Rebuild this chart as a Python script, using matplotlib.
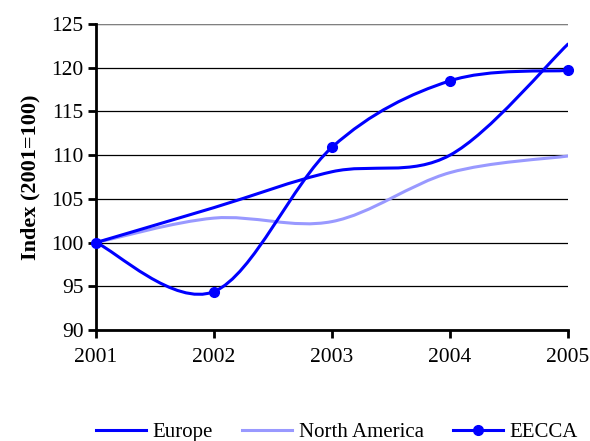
import numpy as np
import matplotlib
matplotlib.use("Agg")
from matplotlib import pyplot as plt
from matplotlib.path import Path
from matplotlib.patches import PathPatch
from matplotlib.lines import Line2D

years = [2001, 2002, 2003, 2004, 2005]
europe = [100, 104.0, 108.1, 110.0, 122.7]
north_america = [100, 102.8, 102.4, 108.0, 109.9]
eecca = [100, 94.4, 110.9, 118.5, 119.7]

blue = '#0000FF'
light_blue = '#9999FF'

plt.rcParams['font.family'] = ['Liberation Serif', 'DejaVu Serif']


def smooth_path(x, y):
    # Excel-like smoothed line: Catmull-Rom segments as cubic Beziers
    pts = np.column_stack([x, y]).astype(float)
    ext = np.vstack([pts[0], pts, pts[-1]])
    verts = [tuple(pts[0])]
    codes = [Path.MOVETO]
    for i in range(1, len(ext) - 2):
        p0, p1, p2, p3 = ext[i - 1], ext[i], ext[i + 1], ext[i + 2]
        c1 = p1 + (p2 - p0) / 6
        c2 = p2 - (p3 - p1) / 6
        verts += [tuple(c1), tuple(c2), tuple(p2)]
        codes += [Path.CURVE4] * 3
    return Path(verts, codes)


fig = plt.figure(figsize=(5.9, 4.41), dpi=100)
ax = fig.add_axes([0.1627, 0.2517, 0.80, 0.6939])

for vals, col in [(north_america, light_blue), (europe, blue), (eecca, blue)]:
    ax.add_patch(PathPatch(smooth_path(years, vals), facecolor='none',
                           edgecolor=col, lw=2.2, capstyle='round', zorder=3))
ax.plot(years, eecca, ls='none', marker='o', ms=7, color=blue, zorder=4,
        clip_on=False)

ax.set_xlim(2001, 2005)
ax.set_ylim(90, 125)
ax.set_xticks(years)
ax.set_yticks(range(90, 126, 5))
ax.yaxis.grid(True, color='black', lw=0.9)
ax.set_axisbelow(True)
for s in ['top', 'right']:
    ax.spines[s].set_visible(False)
for s in ['left', 'bottom']:
    ax.spines[s].set_linewidth(2)
ax.axhline(125, color='#808080', lw=1.5, zorder=1)
ax.tick_params(axis='both', labelsize=15.5, width=2, length=6, direction='out',
               colors='black')
ax.tick_params(axis='x', pad=7)
ax.tick_params(axis='y', pad=3)
ax.set_ylabel('Index (2001=100)', fontsize=16, fontweight='bold', labelpad=8)

handles = [Line2D([], [], color=blue, lw=2.2),
           Line2D([], [], color=light_blue, lw=2.2),
           Line2D([], [], color=blue, lw=2.2, marker='o', ms=7)]
fig.legend(handles, ['Europe', 'North America', 'EECCA'], loc='lower center',
           bbox_to_anchor=(0.571, -0.045), ncol=3, frameon=False, fontsize=15,
           handlelength=2.4, columnspacing=1.4, handletextpad=0.3)

plt.savefig('out.png')
